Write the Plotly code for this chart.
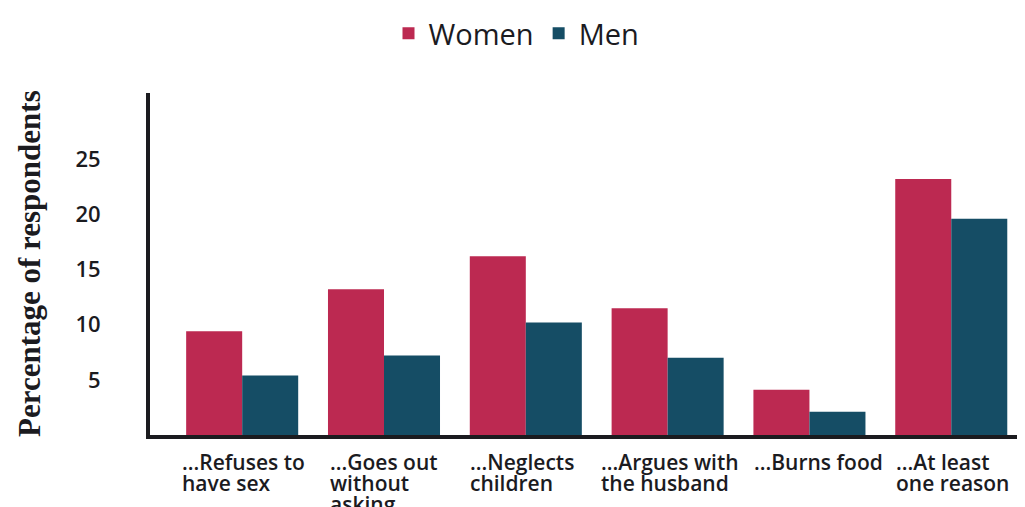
import plotly.graph_objects as go

categories = ["...Refuses to<br>have sex", "...Goes out<br>without<br>asking", "...Neglects<br>children",
              "...Argues with<br>the husband", "...Burns food", "...At least<br>one reason"]
women = [9.4, 13.2, 16.2, 11.5, 4.1, 23.2]
men = [5.4, 7.2, 10.2, 7.0, 2.1, 19.6]
y_ticks = [5, 10, 15, 20, 25]

idx = list(range(len(categories)))
ink = "#1b1b1f"

fig = go.Figure()
fig.add_trace(go.Bar(name="Women", x=idx, y=women, marker=dict(color="#BC2951", line=dict(width=0))))
fig.add_trace(go.Bar(name="Men", x=idx, y=men, marker=dict(color="#154D65", line=dict(width=0))))

label_shift = [-62, -56, -58, -69, -57, -57]
for i, lab in enumerate(categories):
    for j, line in enumerate(lab.split("<br>")):
        fig.add_annotation(x=i, y=0, xref="x", yref="paper", text=line, showarrow=False,
                           xanchor="left", yanchor="top", align="left",
                           xshift=label_shift[i], yshift=-11 - 21 * j,
                           font=dict(family="Open Sans", size=21, color=ink, weight=600))

fig.add_annotation(x=0, y=0.5, xref="paper", yref="paper", text="Percentage of respondents",
                   textangle=-90, showarrow=False, xanchor="center", yanchor="middle", xshift=-121,
                   font=dict(family="Liberation Serif", size=31, color=ink, weight="bold"))

fig.update_layout(
    width=1017, height=499,
    margin=dict(l=142, r=0, t=85, b=72),
    paper_bgcolor="white", plot_bgcolor="white",
    barmode="group", bargap=0.21, bargroupgap=0,
    showlegend=True,
    legend=dict(orientation="h", xref="container", x=0.5, xanchor="center", yref="container", y=1.0, yanchor="top",
                font=dict(family="Open Sans", size=29, color=ink), itemclick=False),
    xaxis=dict(range=[-0.65, 5.52], showline=True, linewidth=4, linecolor=ink, showticklabels=False,
               showgrid=False, zeroline=False, ticks=""),
    yaxis=dict(range=[0, 31], showline=True, linewidth=4, linecolor=ink, tickvals=y_ticks,
               showgrid=False, zeroline=False, ticks="", ticklabelstandoff=41,
               tickfont=dict(family="Open Sans", size=22, color=ink, weight=600)),
)

fig.write_html("out.html")
